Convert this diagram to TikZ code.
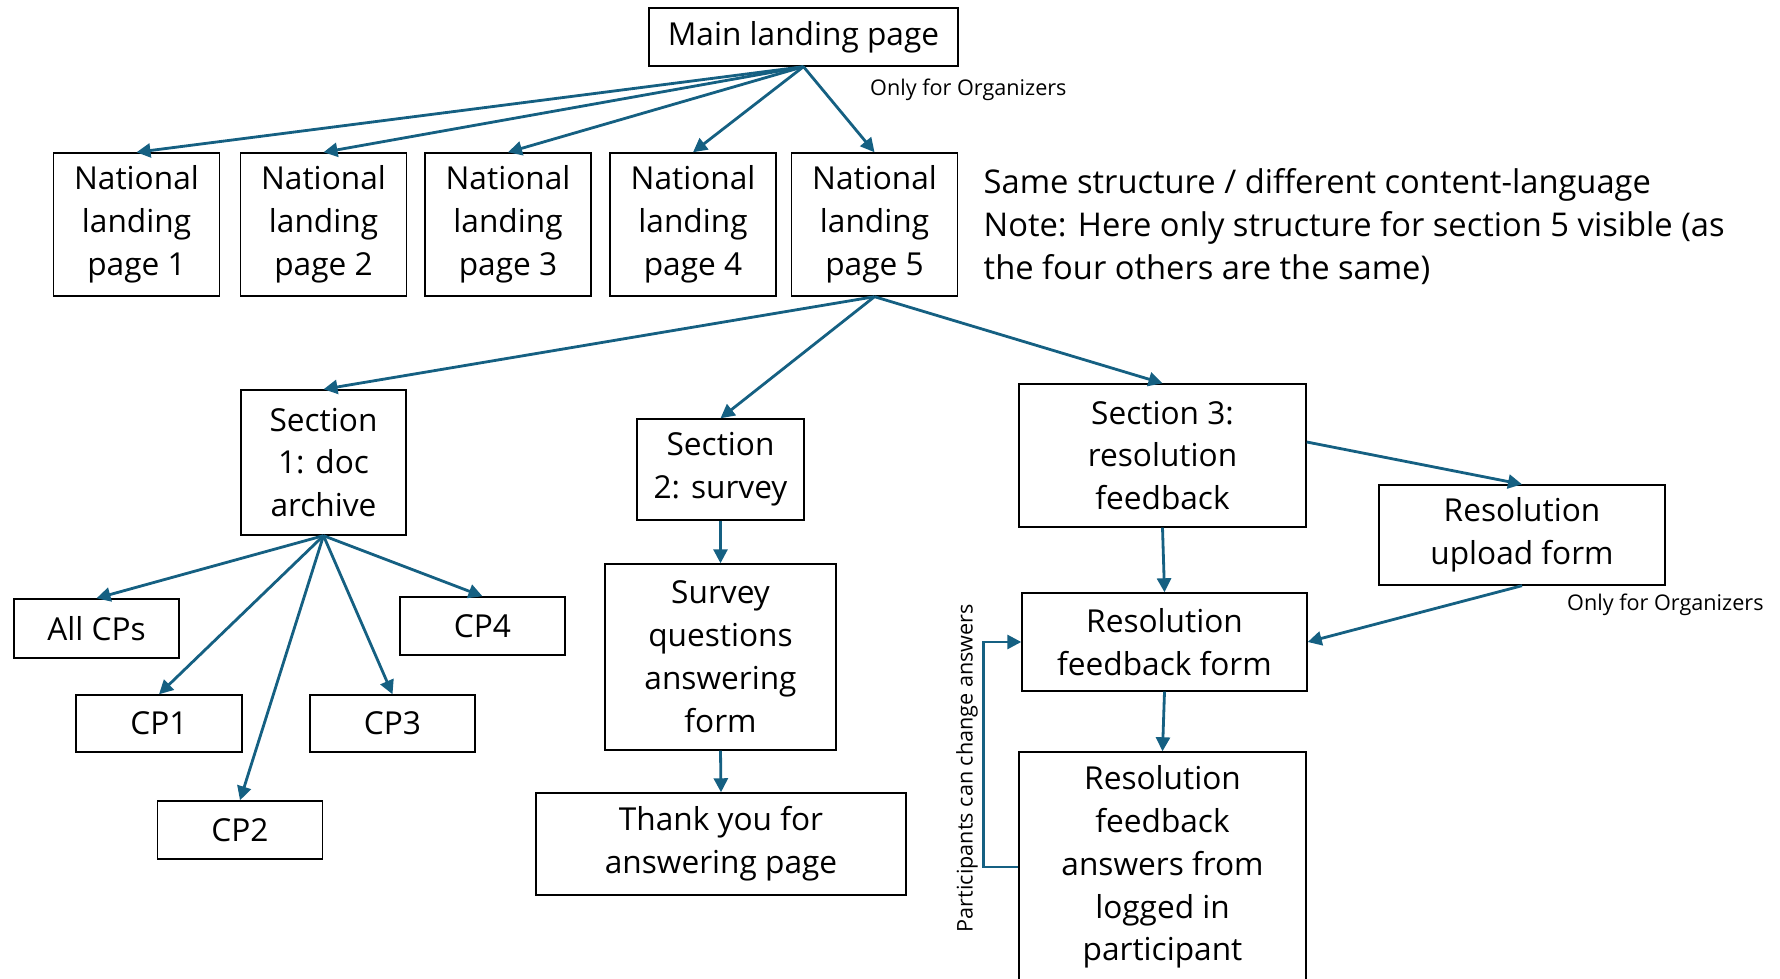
\documentclass[tikz,border=0pt]{standalone}
\usepackage{fontspec}
\setmainfont{Open Sans}
\usetikzlibrary{arrows.meta}
\definecolor{linkblue}{RGB}{21,96,130}

\begin{document}
\begin{tikzpicture}[
    box/.style={draw, line width=0.8pt, align=center, inner sep=2pt,
      font=\fontsize{18}{24.4}\selectfont},
    link/.style={draw=linkblue, line width=1.6pt,
      -{Triangle[length=0.28cm, width=0.28cm]}},
    note/.style={font=\fontsize{12.3}{15}\selectfont}
  ]
    % Page size
    \useasboundingbox (0,0) rectangle (35.6,19.58);

    % Main landing page
    \node[box, minimum width=6.18cm, minimum height=1.16cm] (main) at (16.07,18.84) {Main landing page};

    % National landing pages
    \foreach \i/\x in {1/2.73, 2/6.47, 3/10.16, 4/13.86, 5/17.49}
      \node[box, minimum width=3.32cm, minimum height=2.86cm] (nat\i) at (\x,15.09) {National\\landing\\page \i};
    \foreach \i in {1,...,5}
      \draw[link] (main.south) -- (nat\i.north);
    \node[note, anchor=west] (orgtop) at (17.28,17.78) {Only for Organizers};

    % Remark on the right
    \node[anchor=west, align=left, font=\fontsize{18.6}{24.4}\selectfont] (remark) at (19.55,15.05)
      {Same structure / different content-language\\Note: Here only structure for section 5 visible (as\\the four others are the same)};

    % Sections of page 5
    \node[box, minimum width=3.30cm, minimum height=2.90cm] (sec1) at (6.47,10.33) {Section\\1: doc\\archive};
    \node[box, minimum width=3.34cm, minimum height=2.02cm] (sec2) at (14.41,10.19) {Section\\2: survey};
    \node[box, minimum width=5.74cm, minimum height=2.86cm] (sec3) at (23.25,10.47) {Section 3:\\resolution\\feedback};
    \foreach \s in {sec1, sec2, sec3}
      \draw[link] (nat5.south) -- (\s.north);

    % Section 1 children
    \node[box, minimum width=3.30cm, minimum height=1.18cm] (allcp) at (1.93,7.01) {All CPs};
    \node[box, minimum width=3.32cm, minimum height=1.14cm] (cp1) at (3.18,5.11) {CP1};
    \node[box, minimum width=3.30cm, minimum height=1.16cm] (cp2) at (4.80,2.98) {CP2};
    \node[box, minimum width=3.30cm, minimum height=1.14cm] (cp3) at (7.85,5.11) {CP3};
    \node[box, minimum width=3.30cm, minimum height=1.16cm] (cp4) at (9.65,7.06) {CP4};
    \foreach \c in {allcp, cp1, cp2, cp3, cp4}
      \draw[link] (sec1.south) -- (\c.north);

    % Section 2 children
    \node[box, minimum width=4.62cm, minimum height=3.72cm] (survey) at (14.41,6.44) {Survey\\questions\\answering\\form};
    \node[box, minimum width=7.40cm, minimum height=2.04cm] (thanks) at (14.42,2.70) {Thank you for\\answering page};
    \draw[link] (sec2.south) -- (survey.north);
    \draw[link] (survey.south) -- (thanks.north);

    % Section 3 children
    \node[box, minimum width=5.72cm, minimum height=2.00cm] (upload) at (30.44,8.88) {Resolution\\upload form};
    \node[box, minimum width=5.70cm, minimum height=1.96cm] (fbform) at (23.29,6.74) {Resolution\\feedback form};
    \node[box, minimum width=5.74cm, minimum height=4.60cm] (answers) at (23.25,2.24) {Resolution\\feedback\\answers from\\logged in\\participant};
    \node[note, anchor=west] (orgbot) at (31.22,7.48) {Only for Organizers};
    \draw[link] ([yshift=0.27cm]sec3.east) -- (upload.north);
    \draw[link] (upload.south) -- (fbform.east);
    \draw[link] (sec3.south) -- (fbform.north);
    \draw[link] (fbform.south) -- (answers.north);

    % Loop back for changed answers
    \draw[link] (answers.west) -- ++(-0.70,0) |- (fbform.west);
    \node[note, rotate=90] (change) at (19.34,4.22) {Participants can change answers};
  \end{tikzpicture}
\end{document}
